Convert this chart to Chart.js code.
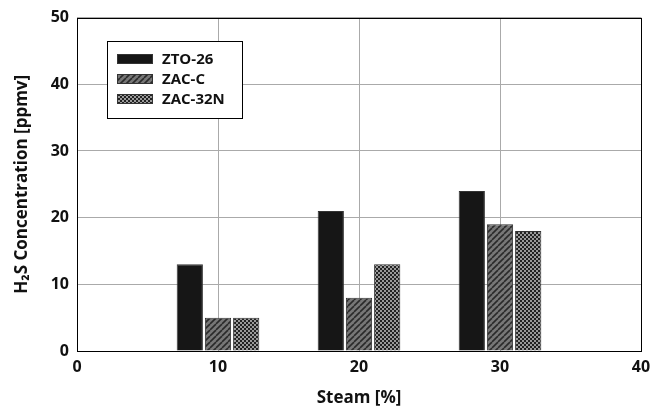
<!DOCTYPE html>
<html>
<head>
<meta charset="utf-8">
<script src="https://cdn.jsdelivr.net/npm/chart.js@4.4.1/dist/chart.umd.min.js"></script>
<style>
  html, body { margin: 0; padding: 0; background: #fff; }
  #wrap { width: 662px; height: 412px; }
</style>
</head>
<body>
<div id="wrap"><canvas id="chart" width="662" height="412"></canvas></div>
<script>
// data
const steam = [10, 20, 30];
const seriesNames = ['ZTO-26', 'ZAC-C', 'ZAC-32N'];
const zto26 = [13, 21, 24];
const zacC = [5, 8, 19];
const zac32n = [5, 13, 18];
const yTicks = [0, 10, 20, 30, 40, 50];
const xTicks = [0, 10, 20, 30, 40];

const FONT = '"Open Sans", "DejaVu Sans", sans-serif';

// patterns
function hatchPattern() {
  const c = document.createElement('canvas');
  c.width = 6; c.height = 6;
  const g = c.getContext('2d');
  g.fillStyle = '#777';
  g.fillRect(0, 0, 6, 6);
  g.strokeStyle = '#2a2a2a';
  g.lineWidth = 1.6;
  for (let i = -6; i <= 12; i += 6) {
    g.beginPath();
    g.moveTo(i, 6);
    g.lineTo(i + 6, 0);
    g.stroke();
  }
  return g.createPattern(c, 'repeat');
}
function checkPattern() {
  const c = document.createElement('canvas');
  c.width = 4; c.height = 4;
  const g = c.getContext('2d');
  g.fillStyle = '#9a9a9a';
  g.fillRect(0, 0, 4, 4);
  g.fillStyle = '#222';
  g.fillRect(0, 0, 2, 2);
  g.fillRect(2, 2, 2, 2);
  return g.createPattern(c, 'repeat');
}

const fills = ['#161616', hatchPattern(), checkPattern()];
const values = [zto26, zacC, zac32n];

const datasets = seriesNames.map((name, i) => ({
  label: name,
  data: steam.map((s, j) => ({ x: s, y: values[i][j] })),
  backgroundColor: fills[i],
  borderColor: '#333',
  borderWidth: 1,
  categoryPercentage: 0.6,
  barPercentage: 0.93
}));

// legend drawn inside the plot, boxed
const boxLegend = {
  id: 'boxLegend',
  afterDatasetsDraw(chart) {
    const ctx = chart.ctx;
    const x0 = 107.5, y0 = 41.5, w = 135, h = 77;
    ctx.save();
    ctx.fillStyle = '#fff';
    ctx.fillRect(x0, y0, w, h);
    ctx.strokeStyle = '#000';
    ctx.lineWidth = 1;
    ctx.strokeRect(x0, y0, w, h);
    ctx.font = 'bold 15px ' + FONT;
    ctx.textBaseline = 'middle';
    chart.data.datasets.forEach((ds, i) => {
      const yc = 59 + i * 20;
      ctx.fillStyle = ds.backgroundColor;
      ctx.fillRect(117, yc - 5, 36, 10);
      ctx.strokeStyle = '#333';
      ctx.strokeRect(117.5, yc - 4.5, 35, 9);
      ctx.fillStyle = '#111';
      ctx.fillText(ds.label, 162, yc + 1);
    });
    ctx.restore();
  }
};

// black frame round the plot area
const frame = {
  id: 'frame',
  afterDraw(chart) {
    const a = chart.chartArea;
    const ctx = chart.ctx;
    ctx.save();
    ctx.strokeStyle = '#000';
    ctx.lineWidth = 1;
    ctx.strokeRect(Math.round(a.left) + 0.5, Math.round(a.top) + 0.5,
      Math.round(a.right - a.left), Math.round(a.bottom - a.top));
    ctx.restore();
  }
};

new Chart(document.getElementById('chart'), {
  type: 'bar',
  data: { datasets: datasets },
  options: {
    responsive: false,
    animation: false,
    layout: { padding: { top: 14, right: 21, left: 8, bottom: 0 } },
    plugins: { legend: { display: false }, tooltip: { enabled: false } },
    scales: {
      x: {
        type: 'linear',
        min: 0, max: 40,
        offset: false,
        afterBuildTicks: s => { s.ticks = xTicks.map(v => ({ value: v })); },
        afterFit: s => { s.height = 61; },
        grid: { color: '#aaa', lineWidth: 1, drawTicks: false, offset: false },
        border: { display: false },
        ticks: { color: '#111', font: { family: FONT, size: 16, weight: 'bold' }, padding: 7, maxRotation: 0 },
        title: { display: true, text: 'Steam [%]', color: '#111', font: { family: FONT, size: 17, weight: 'bold' }, padding: { top: 4 } }
      },
      y: {
        min: 0, max: 50,
        afterBuildTicks: s => { s.ticks = yTicks.map(v => ({ value: v })); },
        afterFit: s => { s.width = 69; },
        grid: { color: '#aaa', lineWidth: 1, drawTicks: false },
        border: { display: false },
        ticks: { color: '#111', font: { family: FONT, size: 16, weight: 'bold' }, padding: 8 },
        title: { display: true, text: 'H\u2082S Concentration [ppmv]', color: '#111', font: { family: FONT, size: 17, weight: 'bold' }, padding: { bottom: 2 } }
      }
    }
  },
  plugins: [boxLegend, frame]
});
</script>
</body>
</html>
